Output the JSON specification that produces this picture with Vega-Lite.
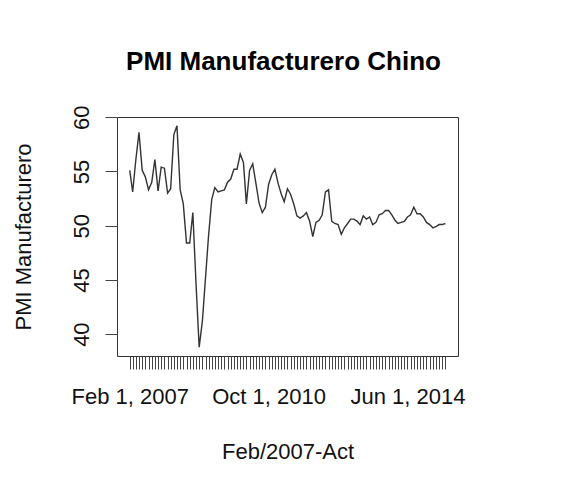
{
  "$schema": "https://vega.github.io/schema/vega-lite/v6.json",
  "width": 341,
  "height": 239,
  "autosize": "none",
  "padding": {"left": 117, "top": 117, "right": 118, "bottom": 145},
  "background": "white",
  "title": {
    "text": "PMI Manufacturero Chino",
    "font": "Liberation Sans",
    "fontSize": 26,
    "fontWeight": "bold",
    "color": "black",
    "anchor": "middle",
    "frame": "group",
    "baseline": "alphabetic",
    "offset": 9,
    "dx": -4
  },
  "config": {
    "view": {"stroke": "#333", "strokeWidth": 1},
    "axis": {
      "labelFont": "Liberation Sans",
      "titleFont": "Liberation Sans",
      "labelFontSize": 22,
      "titleFontSize": 22,
      "titleFontWeight": "normal",
      "labelColor": "#111",
      "titleColor": "#111",
      "grid": false,
      "domain": false,
      "tickColor": "#444",
      "tickWidth": 1
    }
  },
  "data": {
    "values": [
      {"fecha": "2007-02-01", "pmi": 55.1},
      {"fecha": "2007-03-01", "pmi": 53.1},
      {"fecha": "2007-04-01", "pmi": 56.1},
      {"fecha": "2007-05-01", "pmi": 58.6},
      {"fecha": "2007-06-01", "pmi": 55.1},
      {"fecha": "2007-07-01", "pmi": 54.5},
      {"fecha": "2007-08-01", "pmi": 53.3},
      {"fecha": "2007-09-01", "pmi": 54.0},
      {"fecha": "2007-10-01", "pmi": 56.1},
      {"fecha": "2007-11-01", "pmi": 53.2},
      {"fecha": "2007-12-01", "pmi": 55.4},
      {"fecha": "2008-01-01", "pmi": 55.3},
      {"fecha": "2008-02-01", "pmi": 53.0},
      {"fecha": "2008-03-01", "pmi": 53.4},
      {"fecha": "2008-04-01", "pmi": 58.4},
      {"fecha": "2008-05-01", "pmi": 59.2},
      {"fecha": "2008-06-01", "pmi": 53.3},
      {"fecha": "2008-07-01", "pmi": 52.0},
      {"fecha": "2008-08-01", "pmi": 48.4},
      {"fecha": "2008-09-01", "pmi": 48.4},
      {"fecha": "2008-10-01", "pmi": 51.2},
      {"fecha": "2008-11-01", "pmi": 44.6},
      {"fecha": "2008-12-01", "pmi": 38.8},
      {"fecha": "2009-01-01", "pmi": 41.2},
      {"fecha": "2009-02-01", "pmi": 45.3},
      {"fecha": "2009-03-01", "pmi": 49.0},
      {"fecha": "2009-04-01", "pmi": 52.4},
      {"fecha": "2009-05-01", "pmi": 53.5},
      {"fecha": "2009-06-01", "pmi": 53.1},
      {"fecha": "2009-07-01", "pmi": 53.2},
      {"fecha": "2009-08-01", "pmi": 53.3},
      {"fecha": "2009-09-01", "pmi": 54.0},
      {"fecha": "2009-10-01", "pmi": 54.3},
      {"fecha": "2009-11-01", "pmi": 55.2},
      {"fecha": "2009-12-01", "pmi": 55.2},
      {"fecha": "2010-01-01", "pmi": 56.6},
      {"fecha": "2010-02-01", "pmi": 55.8},
      {"fecha": "2010-03-01", "pmi": 52.0},
      {"fecha": "2010-04-01", "pmi": 55.1},
      {"fecha": "2010-05-01", "pmi": 55.7},
      {"fecha": "2010-06-01", "pmi": 53.9},
      {"fecha": "2010-07-01", "pmi": 52.1},
      {"fecha": "2010-08-01", "pmi": 51.2},
      {"fecha": "2010-09-01", "pmi": 51.7},
      {"fecha": "2010-10-01", "pmi": 53.8},
      {"fecha": "2010-11-01", "pmi": 54.7},
      {"fecha": "2010-12-01", "pmi": 55.2},
      {"fecha": "2011-01-01", "pmi": 53.9},
      {"fecha": "2011-02-01", "pmi": 52.9},
      {"fecha": "2011-03-01", "pmi": 52.2},
      {"fecha": "2011-04-01", "pmi": 53.4},
      {"fecha": "2011-05-01", "pmi": 52.9},
      {"fecha": "2011-06-01", "pmi": 52.0},
      {"fecha": "2011-07-01", "pmi": 50.9},
      {"fecha": "2011-08-01", "pmi": 50.7},
      {"fecha": "2011-09-01", "pmi": 50.9},
      {"fecha": "2011-10-01", "pmi": 51.2},
      {"fecha": "2011-11-01", "pmi": 50.4},
      {"fecha": "2011-12-01", "pmi": 49.0},
      {"fecha": "2012-01-01", "pmi": 50.3},
      {"fecha": "2012-02-01", "pmi": 50.5},
      {"fecha": "2012-03-01", "pmi": 51.0},
      {"fecha": "2012-04-01", "pmi": 53.1},
      {"fecha": "2012-05-01", "pmi": 53.3},
      {"fecha": "2012-06-01", "pmi": 50.4},
      {"fecha": "2012-07-01", "pmi": 50.2},
      {"fecha": "2012-08-01", "pmi": 50.1},
      {"fecha": "2012-09-01", "pmi": 49.2},
      {"fecha": "2012-10-01", "pmi": 49.8},
      {"fecha": "2012-11-01", "pmi": 50.2},
      {"fecha": "2012-12-01", "pmi": 50.6},
      {"fecha": "2013-01-01", "pmi": 50.6},
      {"fecha": "2013-02-01", "pmi": 50.4},
      {"fecha": "2013-03-01", "pmi": 50.1},
      {"fecha": "2013-04-01", "pmi": 50.9},
      {"fecha": "2013-05-01", "pmi": 50.6},
      {"fecha": "2013-06-01", "pmi": 50.8},
      {"fecha": "2013-07-01", "pmi": 50.1},
      {"fecha": "2013-08-01", "pmi": 50.3},
      {"fecha": "2013-09-01", "pmi": 51.0},
      {"fecha": "2013-10-01", "pmi": 51.1},
      {"fecha": "2013-11-01", "pmi": 51.4},
      {"fecha": "2013-12-01", "pmi": 51.4},
      {"fecha": "2014-01-01", "pmi": 51.0},
      {"fecha": "2014-02-01", "pmi": 50.5},
      {"fecha": "2014-03-01", "pmi": 50.2},
      {"fecha": "2014-04-01", "pmi": 50.3},
      {"fecha": "2014-05-01", "pmi": 50.4},
      {"fecha": "2014-06-01", "pmi": 50.8},
      {"fecha": "2014-07-01", "pmi": 51.0},
      {"fecha": "2014-08-01", "pmi": 51.7},
      {"fecha": "2014-09-01", "pmi": 51.1},
      {"fecha": "2014-10-01", "pmi": 51.1},
      {"fecha": "2014-11-01", "pmi": 50.8},
      {"fecha": "2014-12-01", "pmi": 50.3},
      {"fecha": "2015-01-01", "pmi": 50.1},
      {"fecha": "2015-02-01", "pmi": 49.8},
      {"fecha": "2015-03-01", "pmi": 49.9},
      {"fecha": "2015-04-01", "pmi": 50.1},
      {"fecha": "2015-05-01", "pmi": 50.1},
      {"fecha": "2015-06-01", "pmi": 50.2}
    ]
  },
  "mark": {"type": "line", "color": "#333", "strokeWidth": 1.4, "clip": false},
  "encoding": {
    "x": {
      "field": "fecha",
      "type": "temporal",
      "scale": {
        "type": "utc",
        "domain": [
          {"year": 2006, "month": 10, "date": 1, "utc": true},
          {"year": 2015, "month": 10, "date": 1, "utc": true}
        ],
        "nice": false
      },
      "axis": {
        "title": "Feb/2007-Act",
        "values": {"expr": "utcSequence('month', utc(2007, 1, 1), utc(2015, 5, 2))"},
        "labelAngle": 0,
        "labelOverlap": false,
        "labelFlush": false,
        "labelBound": false,
        "labelExpr": "indexof(['2007-02','2010-10','2014-06'], utcFormat(datum.value, '%Y-%m')) >= 0 ? utcFormat(datum.value, '%b %-d, %Y') : ''",
        "tickSize": 13,
        "labelPadding": 17,
        "titlePadding": 34
      }
    },
    "y": {
      "field": "pmi",
      "type": "quantitative",
      "scale": {"domain": [37.984, 60.016], "nice": false, "zero": false},
      "axis": {
        "title": "PMI Manufacturero",
        "values": [40, 45, 50, 55, 60],
        "labelAngle": 270,
        "labelAlign": "center",
        "labelBaseline": "bottom",
        "tickSize": 12,
        "labelPadding": 12,
        "titlePadding": 35
      }
    }
  }
}
